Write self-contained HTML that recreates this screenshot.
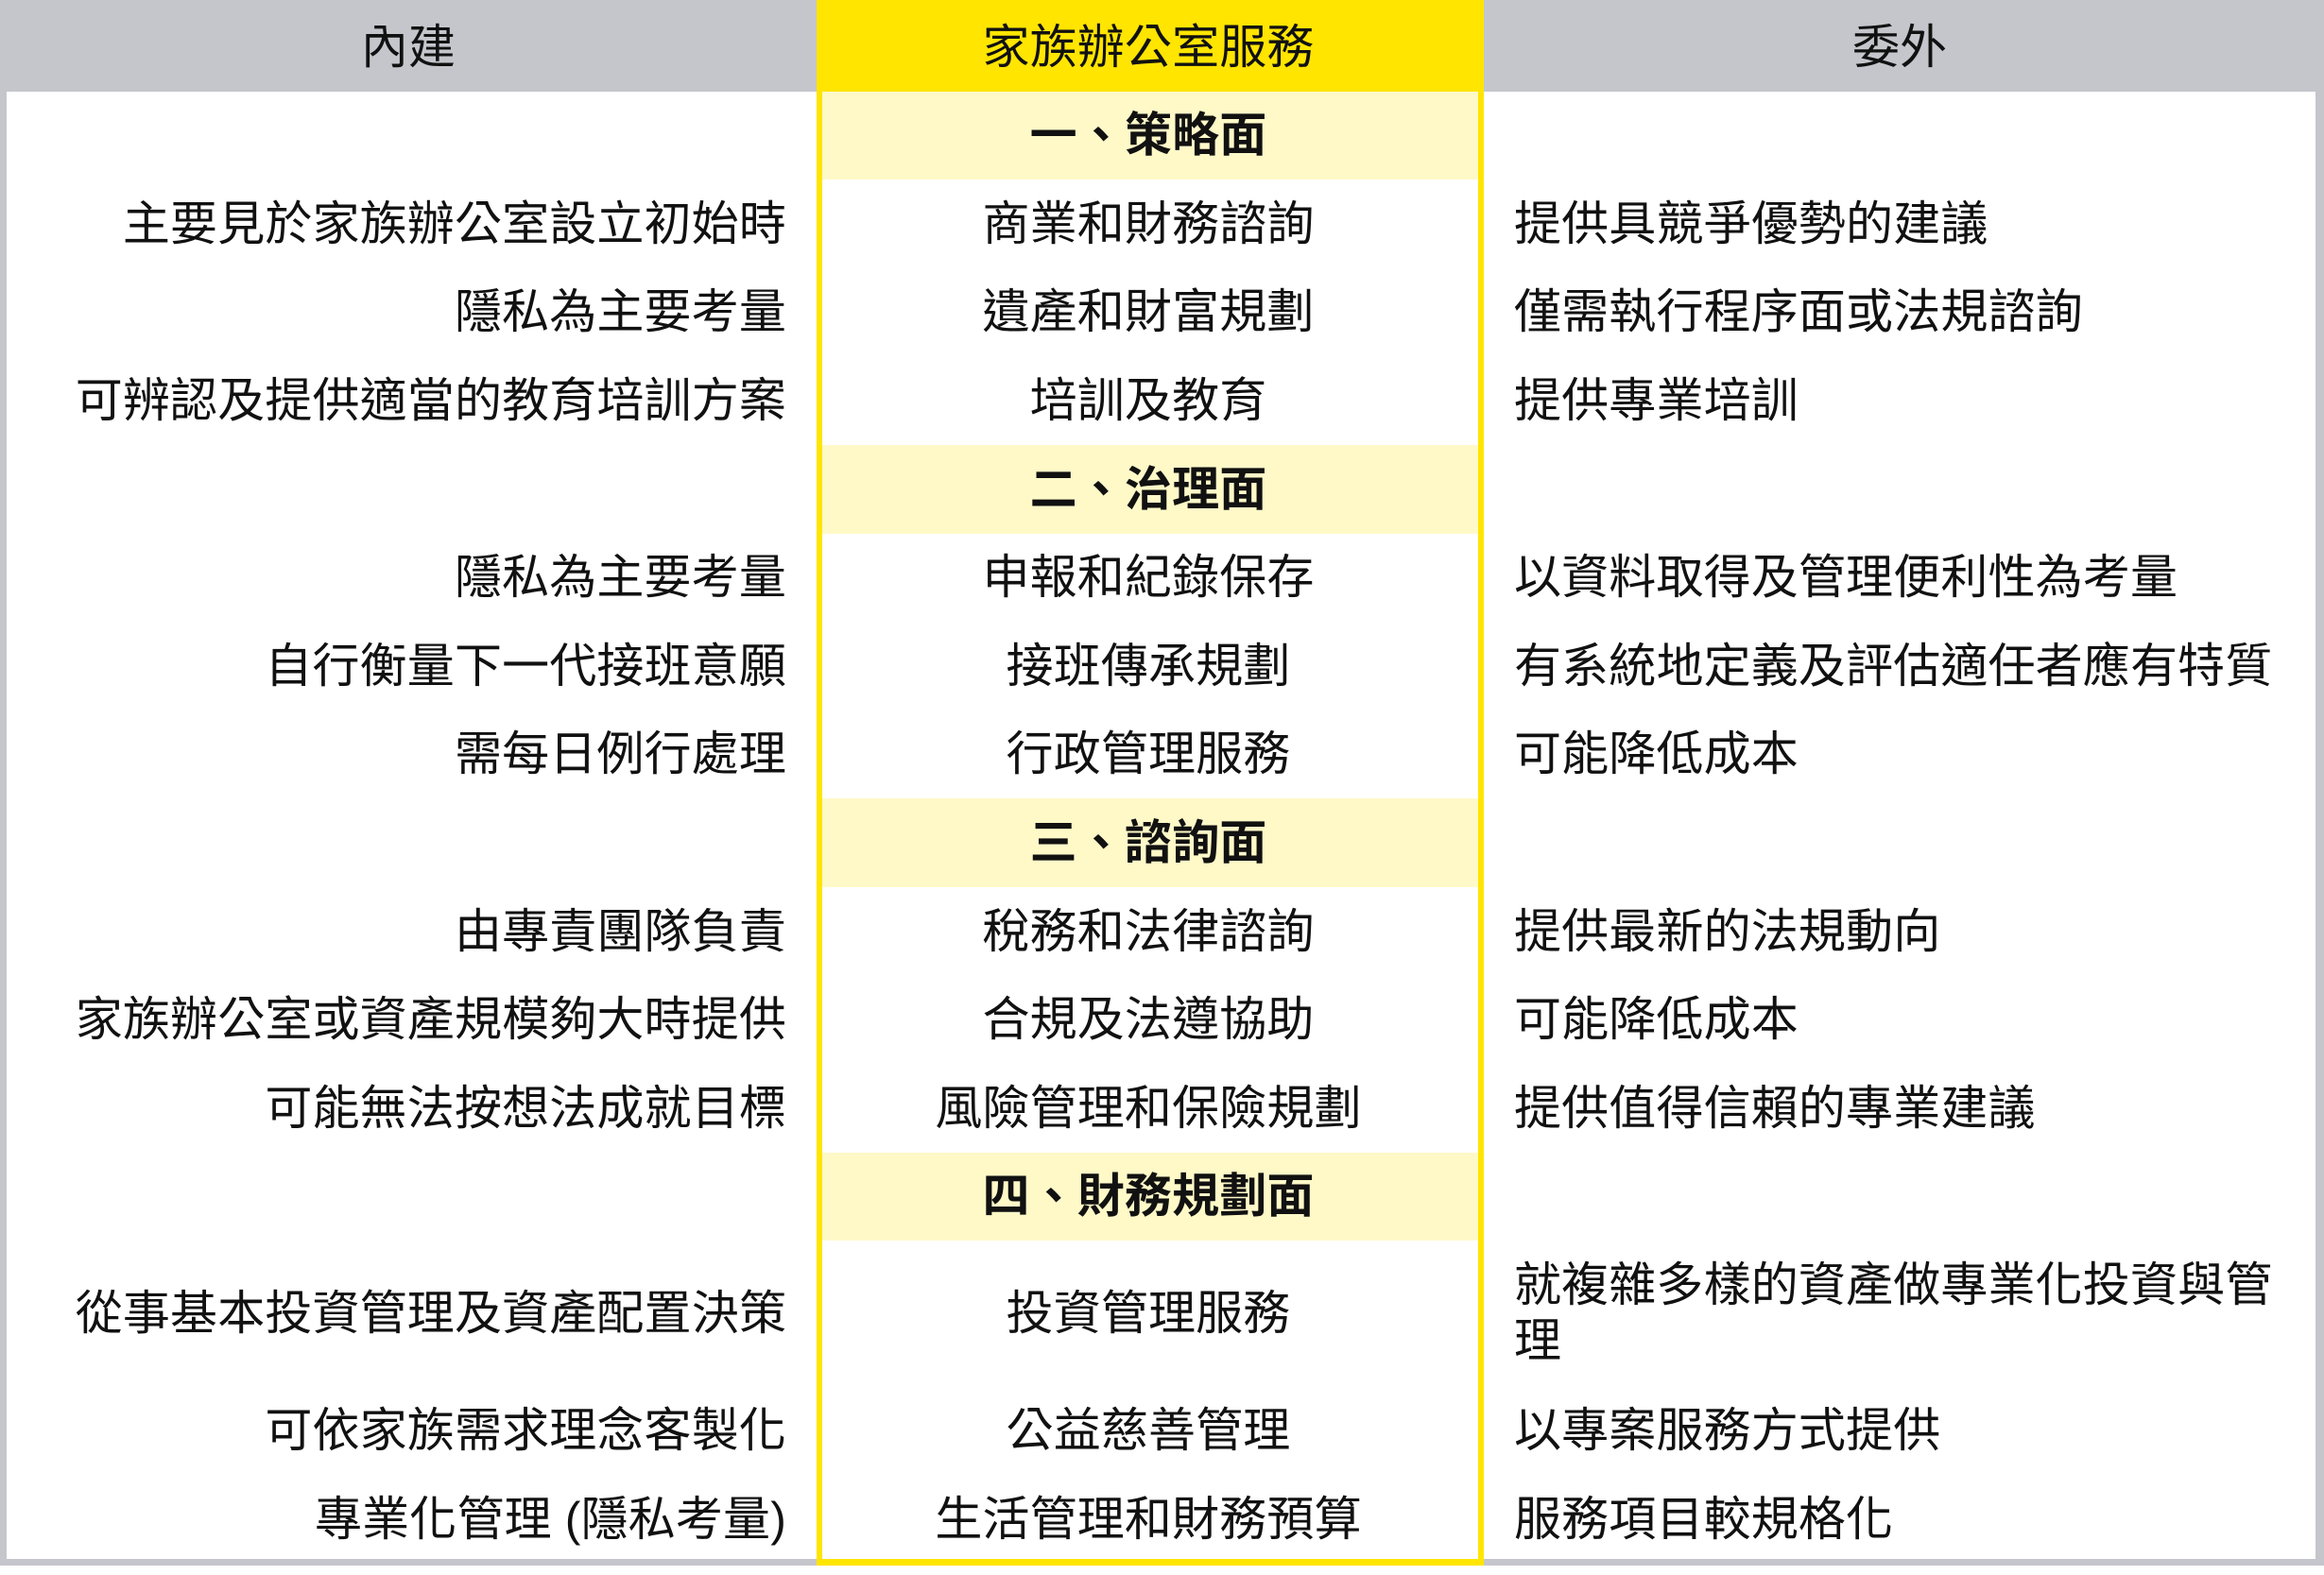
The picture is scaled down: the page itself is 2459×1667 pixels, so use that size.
<!DOCTYPE html>
<html><head><meta charset="utf-8"><style>
body{margin:0;width:2459px;height:1667px;background:#fff;position:relative;overflow:hidden;font-family:"Liberation Sans","Noto Sans CJK TC",sans-serif;color:#111;}
.a{position:absolute;}
.t{position:absolute;font-size:50px;line-height:60px;white-space:nowrap;letter-spacing:0.15px;}
.l{right:1627px;text-align:right;}
.m{left:862px;width:706px;text-align:center;}
.r{left:1602px;}
.s{font-weight:bold;}
</style></head><body>
<div class="a" style="left:0;top:0;width:2459px;height:97px;background:#c5c6cc"></div>
<div class="a" style="left:0;top:0;width:7px;height:1657px;background:#c5c6cc"></div>
<div class="a" style="left:2450px;top:0;width:9px;height:1657px;background:#c5c6cc"></div>
<div class="a" style="left:0;top:1650px;width:2459px;height:7px;background:#c5c6cc"></div>
<div class="a" style="left:864px;top:0;width:706px;height:1657px;background:#ffe500"></div>
<div class="a" style="left:870px;top:97px;width:694px;height:1553px;background:#fff"></div>
<div class="a" style="left:870px;top:97px;width:694px;height:93px;background:#fff9c8"></div>
<div class="a" style="left:870px;top:471px;width:694px;height:94px;background:#fff9c8"></div>
<div class="a" style="left:870px;top:845px;width:694px;height:94px;background:#fff9c8"></div>
<div class="a" style="left:870px;top:1220px;width:694px;height:93px;background:#fff9c8"></div>

<div class="t" style="left:0;width:864px;text-align:center;top:20px">內建</div>
<div class="t m" style="top:20px">家族辦公室服務</div>
<div class="t" style="left:1570px;width:880px;text-align:center;top:20px">委外</div>

<div class="t m s" style="top:113px">一、策略面</div>
<div class="t m s" style="top:488px">二、治理面</div>
<div class="t m s" style="top:862px">三、諮詢面</div>
<div class="t m s" style="top:1236px">四、財務規劃面</div>

<div class="t l" style="top:207px">主要見於家族辦公室設立初始時</div>
<div class="t m" style="top:207px">商業和財務諮詢</div>
<div class="t r" style="top:207px">提供具競爭優勢的建議</div>
<div class="t l" style="top:300px">隱私為主要考量</div>
<div class="t m" style="top:300px">遺產和財富規劃</div>
<div class="t r" style="top:300px">僅需執行程序面或法規諮詢</div>
<div class="t l" style="top:394px">可辨認及提供適當的教育培訓方案</div>
<div class="t m" style="top:394px">培訓及教育</div>
<div class="t r" style="top:394px">提供專業培訓</div>

<div class="t l" style="top:581px">隱私為主要考量</div>
<div class="t m" style="top:581px">申報和紀錄保存</div>
<div class="t r" style="top:581px">以資料取得及管理便利性為考量</div>
<div class="t l" style="top:675px">自行衡量下一代接班意願</div>
<div class="t m" style="top:675px">接班傳承規劃</div>
<div class="t r" style="top:675px">有系統地定義及評估適任者應有特質</div>
<div class="t l" style="top:768px">需每日例行處理</div>
<div class="t m" style="top:768px">行政管理服務</div>
<div class="t r" style="top:768px">可能降低成本</div>

<div class="t l" style="top:956px">由專責團隊負責</div>
<div class="t m" style="top:956px">稅務和法律諮詢</div>
<div class="t r" style="top:956px">提供最新的法規動向</div>
<div class="t l" style="top:1049px">家族辦公室或資產規模夠大時提供</div>
<div class="t m" style="top:1049px">合規及法遵協助</div>
<div class="t r" style="top:1049px">可能降低成本</div>
<div class="t l" style="top:1143px">可能無法按想法成就目標</div>
<div class="t m" style="top:1143px">風險管理和保險規劃</div>
<div class="t r" style="top:1143px">提供值得信賴的專業建議</div>

<div class="t l" style="top:1360px">從事基本投資管理及資產配置決策</div>
<div class="t m" style="top:1360px">投資管理服務</div>
<div class="t r" style="top:1331px;line-height:59px">就複雜多樣的資產做專業化投資與管<br>理</div>
<div class="t l" style="top:1484px">可依家族需求理念客製化</div>
<div class="t m" style="top:1484px">公益慈善管理</div>
<div class="t r" style="top:1484px">以專案服務方式提供</div>
<div class="t l" style="top:1578px">專業化管理 (隱私考量)</div>
<div class="t m" style="top:1578px">生活管理和財務預算</div>
<div class="t r" style="top:1578px">服務項目較規格化</div>
</body></html>
